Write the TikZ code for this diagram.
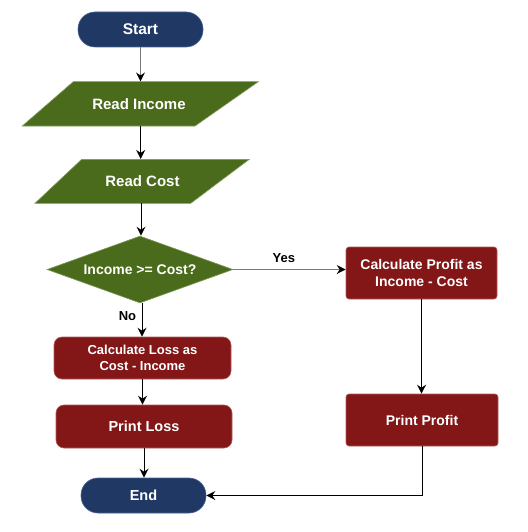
\documentclass[tikz,border=0pt]{standalone}
\usepackage{fontspec}
\setmainfont{Liberation Sans}
\usetikzlibrary{shapes.geometric,arrows.meta}
\definecolor{navy}{HTML}{203864}
\definecolor{navyedge}{HTML}{4A6290}
\definecolor{leaf}{HTML}{4A6B1B}
\definecolor{leafedge}{HTML}{7E9C5A}
\definecolor{wine}{HTML}{831616}
\definecolor{wineedge}{HTML}{B05A5A}
\definecolor{linegray}{HTML}{7A7A7A}
\tikzset{
  txt/.style={text=white,font=\bfseries},
  term/.style={txt,rectangle,rounded corners=17pt,fill=navy,draw=navyedge,line width=0.6pt,minimum width=125pt,minimum height=35pt,inner sep=0pt},
  io/.style={txt,rectangle,inner sep=0pt,minimum height=44.3pt,minimum width=10pt},
  iofill/.style={fill=leaf,draw=leafedge,line width=0.6pt},
  decide/.style={txt,diamond,aspect=2.78,fill=leaf,draw=leafedge,line width=0.6pt,minimum width=186pt,minimum height=67pt,inner sep=0pt},
  procA/.style={txt,rectangle,rounded corners=3pt,fill=wine,draw=wineedge,line width=0.6pt,inner sep=0pt,align=center},
  procB/.style={txt,rectangle,rounded corners=8pt,fill=wine,draw=wineedge,line width=0.6pt,inner sep=0pt,align=center},
  flow/.style={draw=black,line width=1pt,-{Stealth[length=9pt,width=9pt,inset=3pt,black]}},
  flowgray/.style={flow,draw=linegray},
  lbl/.style={font=\bfseries\fontsize{13}{15}\selectfont,text=black}
}
\begin{document}
\begin{tikzpicture}[x=1pt,y=-1pt]
\useasboundingbox (0,0) rectangle (527,532);
% parallelograms
\filldraw[iofill] (73.3,81.7) -- (258.3,81.7) -- (195,126) -- (22.3,126) -- cycle;
\filldraw[iofill] (81.7,159.3) -- (249.3,159.3) -- (190.7,203.3) -- (35,203.3) -- cycle;

\node[term,font=\bfseries\fontsize{15.5}{18}\selectfont] (start) at (140.5,29.5) {Start};
\node[io,font=\bfseries\fontsize{15}{18}\selectfont] (ri) at (139,103.8) {Read Income};
\node[io,font=\bfseries\fontsize{15}{18}\selectfont] (rc) at (142.5,181.3) {Read Cost};
\node[decide,font=\bfseries\fontsize{14}{17}\selectfont] (dec) at (140,269.5) {Income >= Cost?};
\node[procA,minimum width=151pt,minimum height=52pt,font=\bfseries\fontsize{14}{17}\selectfont] (calcp) at (421.5,273) {Calculate Profit as\\Income - Cost};
\node[procB,minimum width=177pt,minimum height=42pt,font=\bfseries\fontsize{13}{16}\selectfont] (calcl) at (142.5,358) {Calculate Loss as\\Cost - Income};
\node[procB,minimum width=176pt,minimum height=43pt,font=\bfseries\fontsize{14.5}{17}\selectfont] (ploss) at (144,426.5) {Print Loss};
\node[procA,minimum width=152pt,minimum height=52pt,font=\bfseries\fontsize{14}{17}\selectfont] (pprof) at (422,420) {Print Profit};
\node[term,font=\bfseries\fontsize{14.5}{17}\selectfont] (end) at (143.5,495.5) {End};

\draw[flowgray] (start.south) -- (start.south |- ri.north);
\draw[flow] (140.7,126) coordinate (riout) -- (riout |- rc.north);
\draw[flow] (141,203.3) coordinate (rcout) -- (rcout |- dec.north);
\draw[flowgray] (dec.east) -- (dec.east -| calcp.west) node[lbl,pos=0.45,above=3pt] {Yes};
\draw[flow] (142,303) coordinate (decout) -- (decout |- calcl.north) node[lbl,pos=0.4,left=2pt] {No};
\draw[flow] (calcp.south) -- (calcp.south |- pprof.north);
\draw[flow] (calcl.south) -- (calcl.south |- ploss.north);
\draw[flow] (ploss.south) -- (ploss.south |- end.north);
\draw[flow] (pprof.south) |- (end.east);
\end{tikzpicture}
\end{document}
